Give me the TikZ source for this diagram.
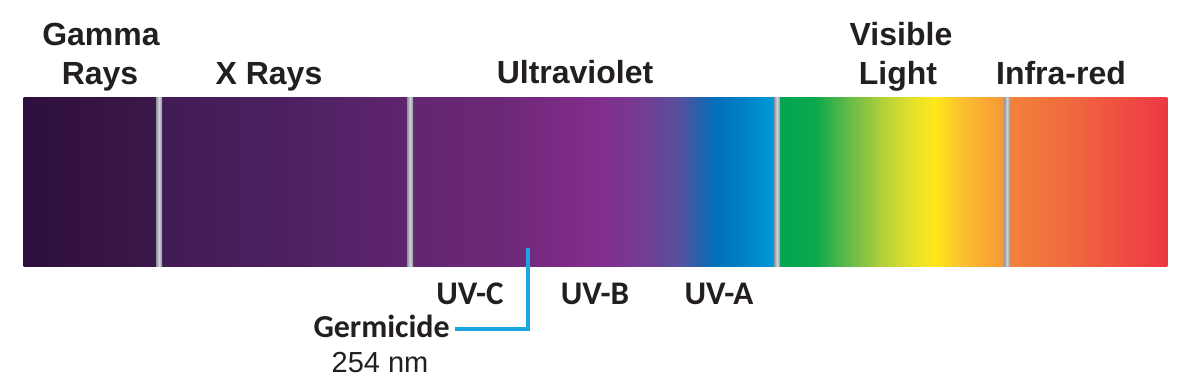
\documentclass[tikz,border=0pt]{standalone}
\usepackage{fontspec}
\setmainfont{Liberation Sans}
\newfontfamily\uvfont{Carlito}
\begin{document}
\begin{tikzpicture}[x=1pt,y=-1pt,
  toplabel/.style={font=\fontsize{32}{32}\selectfont\bfseries, text=txt, inner sep=0pt, anchor=base},
  uvlabel/.style={font=\uvfont\fontsize{33}{33}\selectfont\bfseries, text=txt, inner sep=0pt, anchor=base},
  sepbar/.style={left color=sepd, right color=sepd, middle color=sepl},
  marker/.style={draw=cyanline, line width=3.5pt}]
\definecolor{txt}{HTML}{231F20}
\definecolor{sepd}{HTML}{8E959E}
\definecolor{sepl}{HTML}{CDD2D7}
\definecolor{cyanline}{HTML}{1BA6E1}
\useasboundingbox (0,0) rectangle (1187,391);
\fill[white] (0,0) rectangle (1187,391);
% spectrum segments: x1/c1/x2/c2
\foreach \xa/\ca/\xb/\cb in {
  24/2E0F3F/160/3B1849,
  159/411B54/300/4E2162,
  300/4E2162/411/602570,
  410/63266F/500/6C2878,
  500/6C2878/590/822C8B,
  590/822C8B/640/763B92,
  640/763B92/680/55509F,
  680/55509F/715/0070B9,
  715/0070B9/745/0082C7,
  745/0082C7/778/009CDC,
  777/00A651/815/0BA84D,
  815/0BA84D/845/5CB84A,
  845/5CB84A/880/AECE3B,
  880/AECE3B/910/E2E02A,
  910/E2E02A/935/FFE81A,
  935/FFE81A/960/FDC22E,
  960/FDC22E/1008/F5933A,
  1007/F2843A/1080/F0643F,
  1080/F0643F/1167/ED3744}{
  \definecolor{cl}{HTML}{\ca}\definecolor{cr}{HTML}{\cb}
  \shade[left color=cl, right color=cr] (\xa-0.4,97) rectangle (\xb+0.4,266);
}
% separators
\foreach \sx in {159,410,777,1007}{
  \shade[sepbar] (\sx-3,97) rectangle (\sx+3,266);
}
% top labels
\node[toplabel] (gamma) at (101,45) {Gamma};
\node[toplabel] (grays) at (100,84) {Rays};
\node[toplabel] (xrays) at (269,84) {X Rays};
\node[toplabel] (uv) at (575,83) {Ultraviolet};
\node[toplabel] (visible) at (901,45) {Visible};
\node[toplabel] (light) at (898,84) {Light};
\node[toplabel] (ir) at (1061,84) {Infra-red};
% UV sub-bands
\node[uvlabel] (uvc) at (470,304) {UV-C};
\node[uvlabel] (uvb) at (595,304) {UV-B};
\node[uvlabel] (uva) at (719,304) {UV-A};
% germicide marker
\node[uvlabel, font=\uvfont\fontsize{32}{32}\selectfont\bfseries, anchor=base east] (germ) at (450,337) {Germicide};
\node[font=\fontsize{29}{29}\selectfont, text=txt, inner sep=0pt, anchor=base] (nm) at (380,372) {254 nm};
\coordinate (tick) at (528,248);
\coordinate (elbow) at (528,329);
\draw[marker] (tick) -- (elbow) -- ([xshift=5pt]germ.east |- elbow);
\end{tikzpicture}
\end{document}
